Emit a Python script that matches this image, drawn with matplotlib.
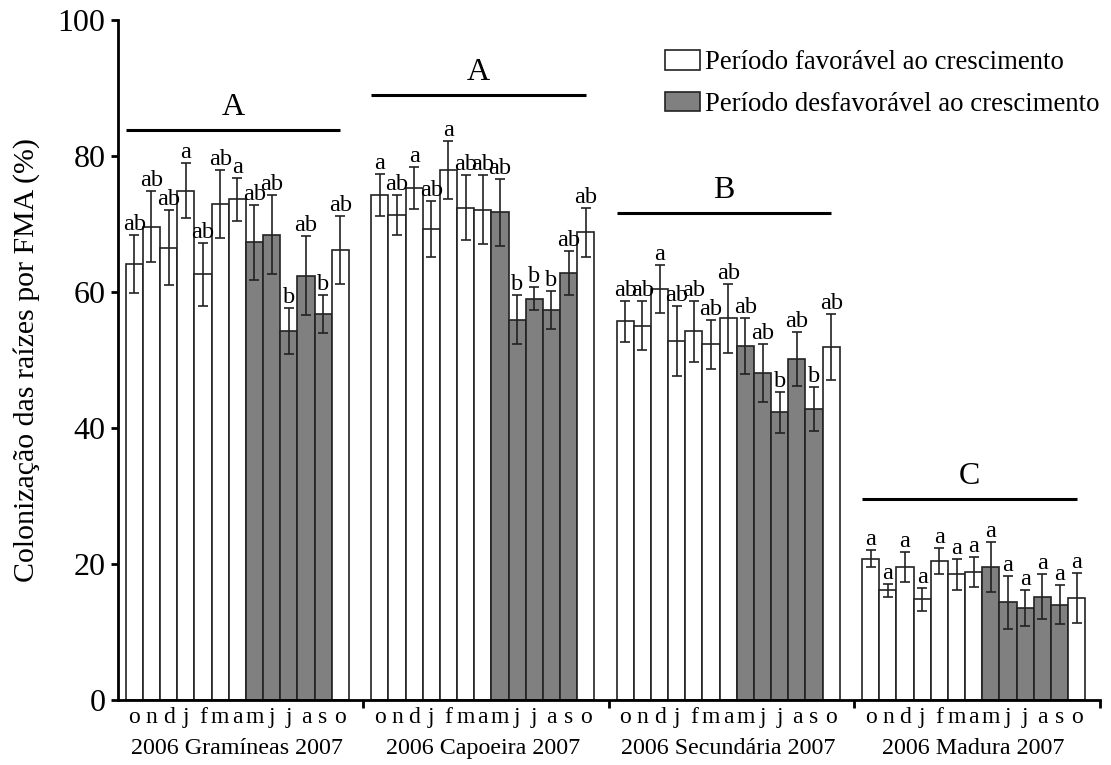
import matplotlib
matplotlib.use("Agg")
import matplotlib.pyplot as plt
from matplotlib.patches import Patch
import matplotlib.transforms as mtransforms
import numpy as np

plt.rcParams['font.family'] = ['Liberation Serif', 'DejaVu Serif']

months = ['o', 'n', 'd', 'j', 'f', 'm', 'a', 'm', 'j', 'j', 'a', 's', 'o']
groups = ['2006 Gramíneas 2007', '2006 Capoeira 2007', '2006 Secundária 2007', '2006 Madura 2007']
group_letters = ['A', 'A', 'B', 'C']
group_line_y = [83.8, 88.9, 71.6, 29.5]
# True = unfavourable (gray) period
unfavourable = [False]*7 + [True]*5 + [False]

gram_vals = [64.1, 69.6, 66.5, 74.9, 62.6, 73.0, 73.6, 67.3, 68.4, 54.2, 62.4, 56.7, 66.1]
gram_err = [4.2, 5.2, 5.5, 4.0, 4.6, 5.0, 3.2, 5.5, 5.8, 3.4, 5.8, 2.8, 5.0]
gram_sig = ['ab', 'ab', 'ab', 'a', 'ab', 'ab', 'a', 'ab', 'ab', 'b', 'ab', 'b', 'ab']

capo_vals = [74.2, 71.3, 75.3, 69.3, 77.9, 72.4, 72.1, 71.7, 55.9, 59.0, 57.4, 62.8, 68.8]
capo_err = [3.1, 2.9, 3.1, 4.1, 4.3, 4.8, 5.1, 4.9, 3.6, 1.7, 2.8, 3.2, 3.6]
capo_sig = ['a', 'ab', 'a', 'ab', 'a', 'ab', 'ab', 'ab', 'b', 'b', 'b', 'ab', 'ab']

secu_vals = [55.7, 55.0, 60.4, 52.8, 54.2, 52.3, 56.1, 52.1, 48.1, 42.3, 50.1, 42.8, 51.9]
secu_err = [3.0, 3.6, 3.5, 5.1, 4.5, 3.6, 5.1, 4.1, 4.3, 3.0, 4.0, 3.2, 4.9]
secu_sig = ['ab', 'ab', 'a', 'ab', 'ab', 'ab', 'ab', 'ab', 'ab', 'b', 'ab', 'b', 'ab']

madu_vals = [20.8, 16.1, 19.6, 14.8, 20.4, 18.5, 18.8, 19.6, 14.4, 13.5, 15.2, 14.0, 15.0]
madu_err = [1.2, 1.0, 2.2, 1.7, 1.9, 2.3, 2.2, 3.7, 3.9, 2.6, 3.3, 2.9, 3.7]
madu_sig = ['a'] * 13

all_vals = [gram_vals, capo_vals, secu_vals, madu_vals]
all_err = [gram_err, capo_err, secu_err, madu_err]
all_sig = [gram_sig, capo_sig, secu_sig, madu_sig]

fig = plt.figure(figsize=(11.11, 7.65), dpi=100)
ax = fig.add_axes([0.1062, 0.085, 0.990 - 0.1062, 0.974 - 0.085])

S = 14.3  # slot width per group in bar units
nb = len(months)
white = '#ffffff'
gray = '#808080'

major_pos = []
major_lab = []
for g in range(len(groups)):
    start = g * S + (S - nb) / 2.0 + 0.5 - 0.2
    xs = start + np.arange(nb)
    cols = [gray if u else white for u in unfavourable]
    ax.bar(xs, all_vals[g], width=1.0, color=cols, edgecolor='#222222', linewidth=1.2, zorder=2)
    ax.errorbar(xs, all_vals[g], yerr=all_err[g], fmt='none', ecolor='#222222',
                elinewidth=1.2, capsize=3.5, capthick=1.2, zorder=3)
    for x, v, e, s in zip(xs, all_vals[g], all_err[g], all_sig[g]):
        ax.annotate(s, (x, v + e), xytext=(0, 0), textcoords='offset points',
                    ha='center', va='bottom', fontsize=17.5, zorder=4)
    # group significance line + letter
    x0 = xs[0] - 0.5
    x1 = xs[-1]
    ax.plot([x0, x1], [group_line_y[g], group_line_y[g]], color='black', lw=2.2,
            solid_capstyle='butt', zorder=3)
    ax.text((x0 + x1) / 2, group_line_y[g] + 1.2, group_letters[g], ha='center',
            va='bottom', fontsize=23)
    major_pos.extend(xs)
    major_lab.extend(months)
    trans = mtransforms.blended_transform_factory(ax.transData, ax.transAxes)
    ax.text(xs.mean(), -0.071, groups[g], transform=trans, ha='center', va='center',
            fontsize=17.3)

ax.set_xlim(0, len(groups) * S)
ax.set_ylim(0, 100)
ax.set_xticks(major_pos)
ax.set_xticklabels(major_lab, fontsize=17)
ax.tick_params(axis='x', which='major', length=0, pad=5)
ax.set_xticks([S * (g + 1) for g in range(len(groups))], minor=True)
ax.tick_params(axis='x', which='minor', length=6, width=2, direction='out')
ax.set_yticks([0, 20, 40, 60, 80, 100])
ax.tick_params(axis='y', length=5, width=2, direction='out', labelsize=23, pad=4)
ax.set_ylabel('Colonização das raízes por FMA (%)', fontsize=21.5, labelpad=13)

for sp in ['top', 'right']:
    ax.spines[sp].set_visible(False)
for sp in ['left', 'bottom']:
    ax.spines[sp].set_linewidth(2)

handles = [Patch(facecolor=white, edgecolor='#222222', linewidth=1.2),
           Patch(facecolor=gray, edgecolor='#222222', linewidth=1.2)]
ax.legend(handles, ['Período favorável ao crescimento', 'Período desfavorável ao crescimento'],
          loc='upper left', bbox_to_anchor=(665 / 1111, 1 - 50 / 765),
          bbox_transform=fig.transFigure, frameon=False, fontsize=19.3,
          handlelength=1.3, handleheight=0.75, handletextpad=0.2, labelspacing=0.62,
          borderaxespad=0, borderpad=0)

fig.savefig('out.png', dpi=100)
